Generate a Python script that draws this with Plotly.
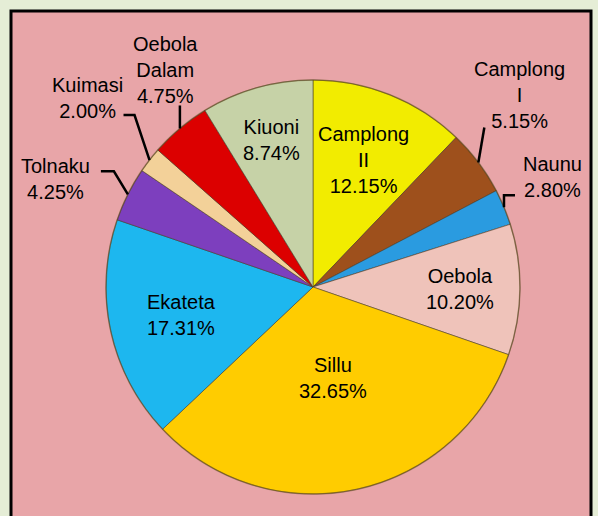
import math
import plotly.graph_objects as go

# ---- data ----
labels = ["Camplong II", "Camplong I", "Naunu", "Oebola", "Sillu",
          "Ekateta", "Tolnaku", "Kuimasi", "Oebola Dalam", "Kiuoni"]
display_labels = ["Camplong<br>II", "Camplong<br>I", "Naunu", "Oebola", "Sillu",
                  "Ekateta", "Tolnaku", "Kuimasi", "Oebola<br>Dalam", "Kiuoni"]
values = [12.15, 5.15, 2.80, 10.20, 32.65, 17.31, 4.25, 2.00, 4.75, 8.74]

# ---- styles ----
colors = ["#F2EC00", "#9E501C", "#2A9BE0", "#EFC3BA", "#FFCC00",
          "#1DB7EF", "#7D3FBE", "#F3D199", "#DC0000", "#C6D2A7"]

W, H = 598, 516
CX, CY, R = 313, 287, 207  # pie centre / radius in pixels
FONT = dict(family="Liberation Sans, Arial, sans-serif", size=20, color="#000000")

def px(x):
    return x / W

def py(y):
    return 1 - y / H

# label placement: ("in", radius factor) or ("out", text dx, text dy, elbow path offsets)
placement = {
    "Camplong II": ("in", 0.66),
    "Kiuoni": ("in", 0.74),
    "Oebola": ("in", 0.71),
    "Sillu": ("in", 0.45),
    "Ekateta": ("in", 0.65),
    "Camplong I": ("out", 41, -67, [(6, -35)]),
    "Naunu": ("out", 49, -30, [(0, -12), (11, -12)]),
    "Oebola Dalam": ("out", -14, -58, [(0, -23)]),
    "Kuimasi": ("out", -62, -62, [(-15, -45), (-26, -45)]),
    "Tolnaku": ("out", -72, -15, [(-14, -23), (-27, -23)]),
}

fig = go.Figure()
fig.add_trace(go.Pie(
    labels=labels,
    values=values,
    sort=False,
    direction="clockwise",
    rotation=0,
    marker=dict(colors=colors, line=dict(color="rgba(70,60,40,0.55)", width=1)),
    textinfo="none",
    hoverinfo="label+percent",
    showlegend=False,
    domain=dict(x=[px(CX - R), px(CX + R)], y=[py(CY + R), py(CY - R)]),
))

shapes = [
    # outer pink frame
    dict(type="rect", xref="paper", yref="paper",
         x0=px(11), x1=px(591), y0=py(530), y1=py(11),
         fillcolor="#E8A5A8", line=dict(color="#000000", width=3), layer="below"),
    # soft rim shadow around the pie
    dict(type="circle", xref="paper", yref="paper",
         x0=px(CX - R), x1=px(CX + R), y0=py(CY + R), y1=py(CY - R),
         line=dict(color="rgba(90,70,20,0.45)", width=1.5)),
]
annotations = []

total = sum(values)
cum = 0.0
for lab, disp, v in zip(labels, display_labels, values):
    mid = (cum + v / 2) / total * 2 * math.pi
    cum += v
    sx, sy = math.sin(mid), -math.cos(mid)
    text = f"{disp}<br>{v / total * 100:.2f}%"
    p = placement[lab]
    if p[0] == "in":
        tx, ty = CX + p[1] * R * sx, CY + p[1] * R * sy
    else:
        ex, ey = CX + R * sx, CY + R * sy
        tx, ty = ex + p[1], ey + p[2]
        pts = [(ex, ey)] + [(ex + dx, ey + dy) for dx, dy in p[3]]
        path = "M " + " L ".join(f"{px(a):.5f},{py(b):.5f}" for a, b in pts)
        shapes.append(dict(type="path", xref="paper", yref="paper", path=path,
                           line=dict(color="#000000", width=2.5)))
    annotations.append(dict(x=px(tx), y=py(ty), xref="paper", yref="paper",
                            text=text, showarrow=False, font=FONT,
                            xanchor="center", yanchor="middle", align="center"))

fig.update_layout(
    width=W, height=H,
    margin=dict(l=0, r=0, t=0, b=0),
    paper_bgcolor="#E5EDD6",
    plot_bgcolor="#E5EDD6",
    shapes=shapes,
    annotations=annotations,
)

fig.write_html(
    "out.html",
    config={"displayModeBar": False},
    post_script="document.body.style.margin='0';document.body.style.background='#E5EDD6';",
)
